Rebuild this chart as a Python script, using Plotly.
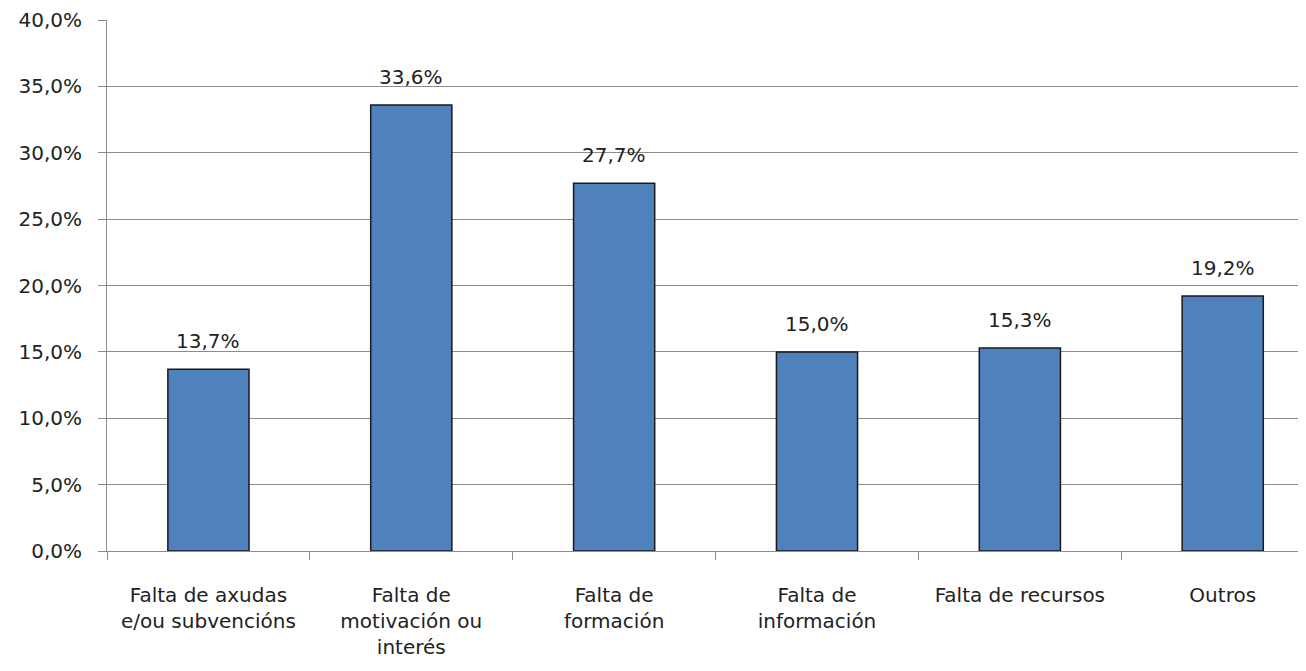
import plotly.graph_objects as go

# categorias e valores (fraccion)
categories = [
    "Falta de axudas<br>e/ou subvencións",
    "Falta de<br>motivación ou<br>interés",
    "Falta de<br>formación",
    "Falta de<br>información",
    "Falta de recursos",
    "Outros",
]
values = [0.137, 0.336, 0.277, 0.150, 0.153, 0.192]
y_ticks = [0, 0.05, 0.10, 0.15, 0.20, 0.25, 0.30, 0.35, 0.40]

font_name = "DejaVu Sans"
text_col = "#222222"
grid_col = "#8c8c8c"

fig = go.Figure()
fig.add_trace(go.Bar(
    x=categories, y=values,
    marker=dict(color="#4F81BD", line=dict(color="#1a1a1a", width=1.5)),
    width=0.4,
))

# etiquetas de valor sobre as barras
for cat, v in zip(categories, values):
    fig.add_annotation(
        x=cat, y=v, text=f"{v * 100:.1f}%".replace(".", ","),
        showarrow=False, yanchor="bottom", yshift=14,
        font=dict(family=font_name, size=20, color=text_col),
    )

fig.update_layout(
    width=1306, height=671,
    margin=dict(l=99, r=0, t=12, b=128),
    plot_bgcolor="white", paper_bgcolor="white",
    separators=",.",
    showlegend=False,
    font=dict(family=font_name, size=20, color=text_col),
)
fig.update_yaxes(
    range=[0, 0.40], tickvals=y_ticks, tickformat=".1%",
    showgrid=True, gridcolor=grid_col, gridwidth=1,
    showline=True, linecolor=grid_col, linewidth=1,
    ticks="outside", ticklen=8, tickcolor=grid_col,
    tickfont=dict(family=font_name, size=20, color=text_col),
    ticklabelstandoff=12, zeroline=False, automargin=False,
)
fig.update_xaxes(
    range=[-0.5, 5.45], tickson="boundaries",
    showline=True, linecolor=grid_col, linewidth=1,
    ticks="outside", ticklen=8, tickcolor=grid_col,
    tickfont=dict(family=font_name, size=20, color=text_col),
    ticklabelstandoff=26, showgrid=False, automargin=False,
)

fig.write_html("out.html")
